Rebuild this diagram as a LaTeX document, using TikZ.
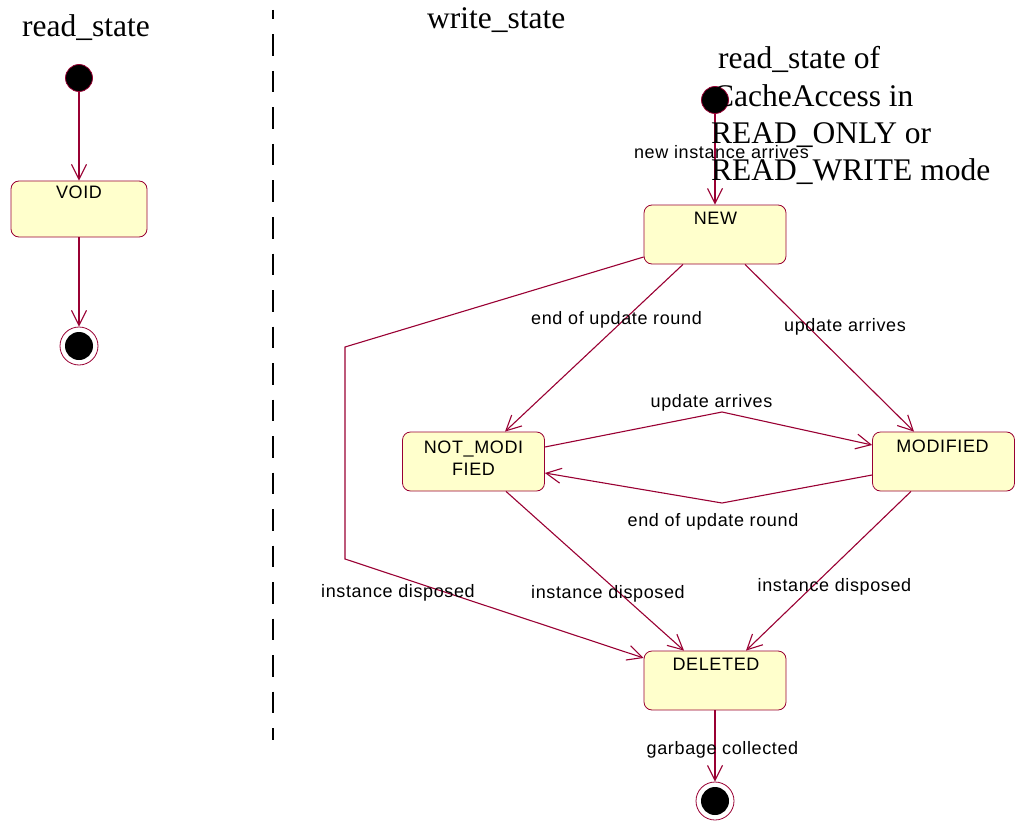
\documentclass[tikz,border=0pt]{standalone}
\usepackage{fontspec}
\setmainfont{Liberation Serif}
\newfontfamily\lblfont[LetterSpace=3.5]{Liberation Sans}
\usetikzlibrary{arrows.meta}
\definecolor{rosered}{RGB}{153,0,51}
\definecolor{stfill}{RGB}{255,255,204}
\begin{document}
\begin{tikzpicture}[x=1pt,y=-1pt,
  statebox/.style={draw=rosered,fill=stfill,rounded corners=8pt,line width=0.8pt,minimum width=142pt,minimum height=59pt,inner sep=0pt},
  boxtxt/.style={font=\lblfont\fontsize{18}{22}\selectfont,inner sep=0pt,anchor=base},
  edgetxt/.style={font=\lblfont\fontsize{18}{22}\selectfont,inner sep=0pt,anchor=base},
  titletxt/.style={font=\fontsize{31.5}{37.3}\selectfont,inner sep=0pt,anchor=base west},
  initst/.style={circle,fill=black,draw=rosered,line width=0.8pt,minimum size=27pt,inner sep=0pt},
  finalst/.style={circle,fill=white,draw=rosered,line width=0.8pt,minimum size=38pt,inner sep=0pt,
     path picture={\fill[black] (path picture bounding box.center) circle (14pt);}},
  trans/.style={draw=rosered,line width=1.1pt,-{Straight Barb[length=15pt,width=15pt,line width=1.1pt]}}
]
\useasboundingbox (0,0) rectangle (1019,821);

% titles
\node[titletxt] (t1) at (22,37) {read\_state};
\node[titletxt] (t2) at (427,29) {write\_state};

% dashed separator
\coordinate (d1) at (273,10);
\coordinate (d2) at (273,740);
\draw[line width=2pt,dash pattern=on 21.5pt off 15pt,dash phase=12pt] (d1) -- (d2);

% left machine
\node[initst] (ri) at (79,78) {};
\node[statebox,minimum width=136pt,minimum height=56pt] (void) at (79,209) {};
\node[boxtxt] (voidl) at (79,198) {VOID};
\node[finalst] (rf) at (79,346) {};
\draw[trans] (ri) -- (void);
\draw[trans] (void) -- (rf);

% right machine
\node[initst] (wi) at (715,100) {};
\node[statebox] (new) at (715,234.5) {};
\node[boxtxt] (newl) at (715.5,224) {NEW};
\node[statebox] (nm) at (473.5,461.5) {};
\node[boxtxt] (nml) at (473.5,453) {\begin{tabular}[t]{@{}c@{}}NOT\_MODI\\FIED\end{tabular}};
\node[statebox] (mod) at (943.5,461.5) {};
\node[boxtxt] (modl) at (942.5,452) {MODIFIED};
\node[statebox] (del) at (715,680.5) {};
\node[boxtxt] (dell) at (716,670) {DELETED};
\node[finalst] (wf) at (715,801) {};

\coordinate (c1) at (345,347);
\coordinate (c2) at (345,559);
\coordinate (ua) at (722,412);
\coordinate (er) at (722,503);

\draw[trans] (wi) -- (new);
\draw[trans] ([xshift=-32pt]new.south) -- ([xshift=31.5pt]nm.north);
\draw[trans] ([xshift=30pt]new.south) -- ([xshift=-29.5pt]mod.north);
\draw[trans] ([yshift=-22.5pt]new.west) -- (c1) -- (c2) -- ([yshift=22.5pt]del.west);
\draw[trans] ([yshift=14.5pt]nm.east) -- (ua) -- ([yshift=16.5pt]mod.west);
\draw[trans] ([yshift=-13.5pt]mod.west) -- (er) -- ([yshift=-11.5pt]nm.east);
\draw[trans] ([xshift=32.5pt]nm.south) -- ([xshift=-31pt]del.north);
\draw[trans] ([xshift=-32.5pt]mod.south) -- ([xshift=31pt]del.north);
\draw[trans] (del) -- (wf);

% edge labels
\node[edgetxt] (l1) at (721.5,159) {new instance arrives};
\node[edgetxt] (l2) at (616.5,324) {end of update round};
\node[edgetxt] (l3) at (845,331.5) {update arrives};
\node[edgetxt] (l4) at (711.5,407) {update arrives};
\node[edgetxt] (l5) at (713,526) {end of update round};
\node[edgetxt] (l6) at (398,597) {instance disposed};
\node[edgetxt] (l7) at (608,598) {instance disposed};
\node[edgetxt] (l8) at (834.5,591) {instance disposed};
\node[edgetxt] (l9) at (722.5,754) {garbage collected};

% note
\node[titletxt] (note) at (711,69) {\begin{tabular}[t]{@{}l@{}}\hspace{7pt}read\_state of\\\hspace{2pt}CacheAccess in\\READ\_ONLY or\\READ\_WRITE mode\end{tabular}};
\end{tikzpicture}
\end{document}
